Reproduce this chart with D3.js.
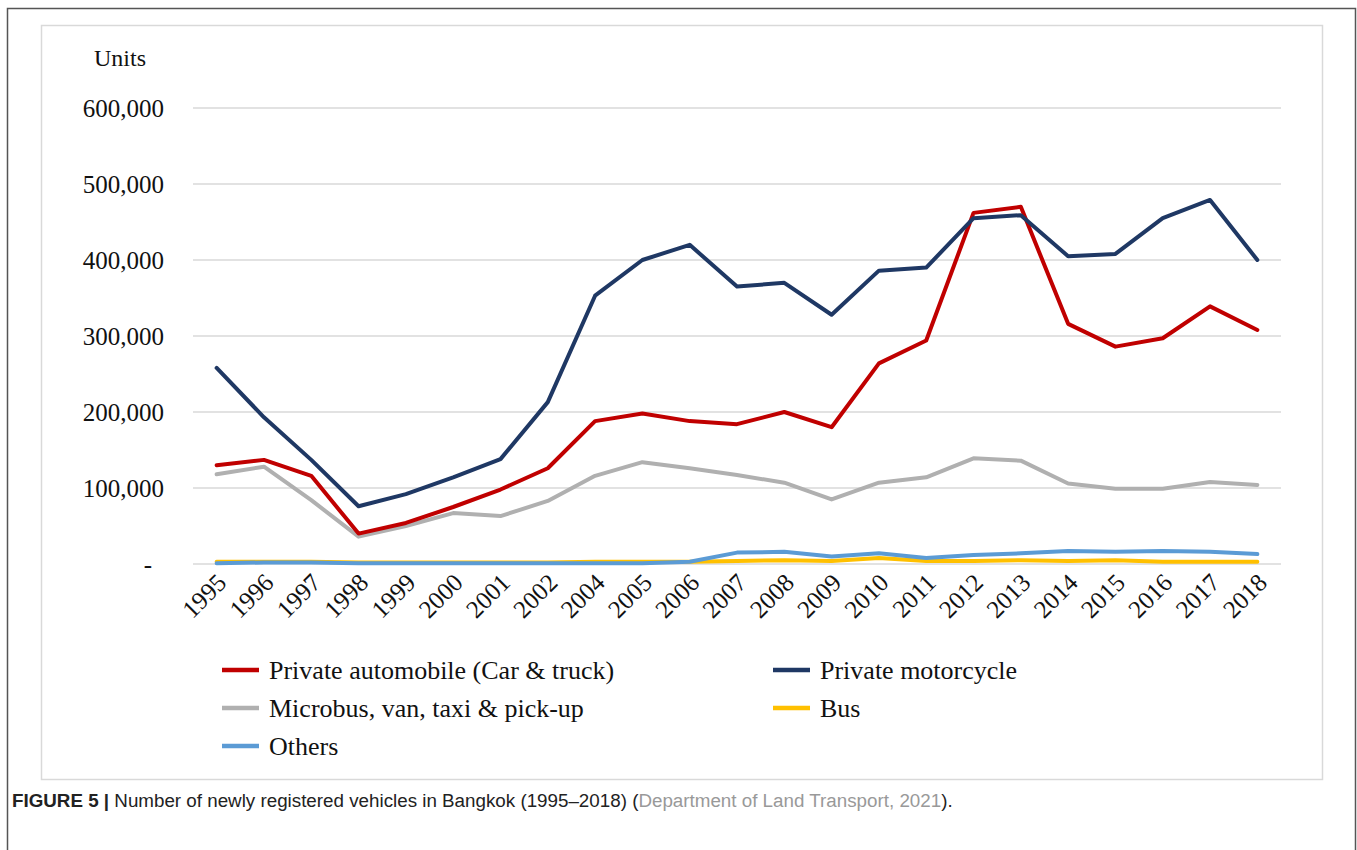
<!DOCTYPE html>
<html>
<head>
<meta charset="utf-8">
<script src="https://cdn.jsdelivr.net/npm/d3@7"></script>
<style>
  body { margin: 0; background: #fff; }
  svg { display: block; }
</style>
</head>
<body>
<svg id="chart" width="1357" height="850"></svg>
<script>
// data
const years = ["1995","1996","1997","1998","1999","2000","2001","2002","2004","2005","2006",
  "2007","2008","2009","2010","2011","2012","2013","2014","2015","2016","2017","2018"];
const automobile = [130000,137000,116000,40000,54000,75000,98000,126000,188000,198000,188000,
  184000,200000,180000,264000,294000,462000,470000,316000,286000,297000,339000,308000];
const motorcycle = [258000,193000,137000,76000,92000,114000,138000,213000,353000,400000,420000,
  365000,370000,328000,386000,390000,455000,459000,405000,408000,455000,479000,400000];
const microbus = [118000,128000,84000,36000,50000,67000,63000,83000,116000,134000,126000,
  117000,107000,85000,107000,114000,139000,136000,106000,99000,99000,108000,104000];
const bus = [3000,3000,3000,2000,2000,2000,2000,2000,3000,3000,3000,
  4000,5000,4000,8000,4000,4000,5000,4000,5000,3000,3000,3000];
const others = [1000,2000,2000,1000,1000,1000,1000,1000,1000,1000,3000,
  15000,16000,10000,14000,8000,12000,14000,17000,16000,17000,16000,13000];
const yTicks = [0,100000,200000,300000,400000,500000,600000];

const series = [
  {name: "Private automobile (Car & truck)", values: automobile, color: "#c00000"},
  {name: "Private motorcycle", values: motorcycle, color: "#1f3864"},
  {name: "Microbus, van, taxi & pick-up", values: microbus, color: "#b0b0b0"},
  {name: "Bus", values: bus, color: "#ffc000"},
  {name: "Others", values: others, color: "#5b9bd5"}
];
// draw order: bottom lines first, like the original
const drawOrder = [3, 4, 2, 0, 1];

const svg = d3.select("#chart");
const serif = "'Liberation Serif', 'Times New Roman', serif";

// outer figure frame and inner chart box
svg.append("path")
  .attr("d", "M7.5,850 V8.5 H1355.5 V850")
  .attr("fill", "none").attr("stroke", "#555").attr("stroke-width", 1.5);
svg.append("rect")
  .attr("x", 41.5).attr("y", 25.5).attr("width", 1281).attr("height", 754)
  .attr("fill", "#fff").attr("stroke", "#d9d9d9").attr("stroke-width", 1.5);

const x = d3.scalePoint().domain(years).range([193, 1281]).padding(0.5);
const y = d3.scaleLinear().domain([0, 600000]).range([564, 108]);

// gridlines
svg.append("g").attr("class", "grid")
  .selectAll("line").data(yTicks).enter().append("line")
    .attr("x1", 193).attr("x2", 1281)
    .attr("y1", d => y(d)).attr("y2", d => y(d))
    .attr("stroke", "#d9d9d9").attr("stroke-width", 1.3);

// y axis labels
const yAxis = svg.append("g")
  .attr("transform", "translate(164,0)")
  .call(d3.axisLeft(y).tickValues(yTicks).tickSize(0).tickPadding(0)
    .tickFormat(d => d === 0 ? "-" : d3.format(",")(d)));
yAxis.select(".domain").remove();
yAxis.selectAll("text")
  .attr("font-family", serif).attr("font-size", 25).attr("fill", "#111")
  .attr("dy", "0.35em");
yAxis.selectAll(".tick").filter(d => d === 0).select("text").attr("dx", -12);

svg.append("text")
  .attr("x", 94).attr("y", 66)
  .attr("font-family", serif).attr("font-size", 24).attr("fill", "#111")
  .text("Units");

// x axis labels, rotated
svg.append("g").attr("class", "xlabels")
  .selectAll("text").data(years).enter().append("text")
    .attr("transform", d => `translate(${x(d) + 5},${578}) rotate(-45)`)
    .attr("text-anchor", "end")
    .attr("dy", "0.35em")
    .attr("font-family", serif).attr("font-size", 25).attr("fill", "#111")
    .text(d => d);

// lines
const line = d3.line()
  .x((d, i) => x(years[i]))
  .y(d => y(d));

svg.append("g").attr("class", "lines")
  .selectAll("path").data(drawOrder.map(i => series[i])).enter().append("path")
    .attr("d", d => line(d.values))
    .attr("fill", "none")
    .attr("stroke", d => d.color)
    .attr("stroke-width", 4)
    .attr("stroke-linejoin", "round")
    .attr("stroke-linecap", "round");

// legend
const legendPos = [[222, 670], [773, 670], [222, 708], [773, 708], [222, 746]];
const legend = svg.append("g").attr("class", "legend")
  .selectAll("g").data(series).enter().append("g")
    .attr("transform", (d, i) => `translate(${legendPos[i][0]},${legendPos[i][1]})`);
legend.append("line")
  .attr("x1", 0).attr("x2", 37).attr("y1", 0).attr("y2", 0)
  .attr("stroke", d => d.color).attr("stroke-width", 4.5);
legend.append("text")
  .attr("x", 47).attr("dy", "0.33em")
  .attr("font-family", serif).attr("font-size", 26).attr("fill", "#111")
  .text(d => d.name);

// caption
const cap = svg.append("text")
  .attr("x", 12).attr("y", 807)
  .attr("font-family", "'Liberation Sans', Arial, sans-serif")
  .attr("font-size", 18.8).attr("fill", "#222");
cap.append("tspan").attr("font-weight", "bold").text("FIGURE 5 | ");
cap.append("tspan").text("Number of newly registered vehicles in Bangkok (1995\u20132018) (");
cap.append("tspan").attr("fill", "#999").text("Department of Land Transport, 2021");
cap.append("tspan").text(").");
</script>
</body>
</html>
